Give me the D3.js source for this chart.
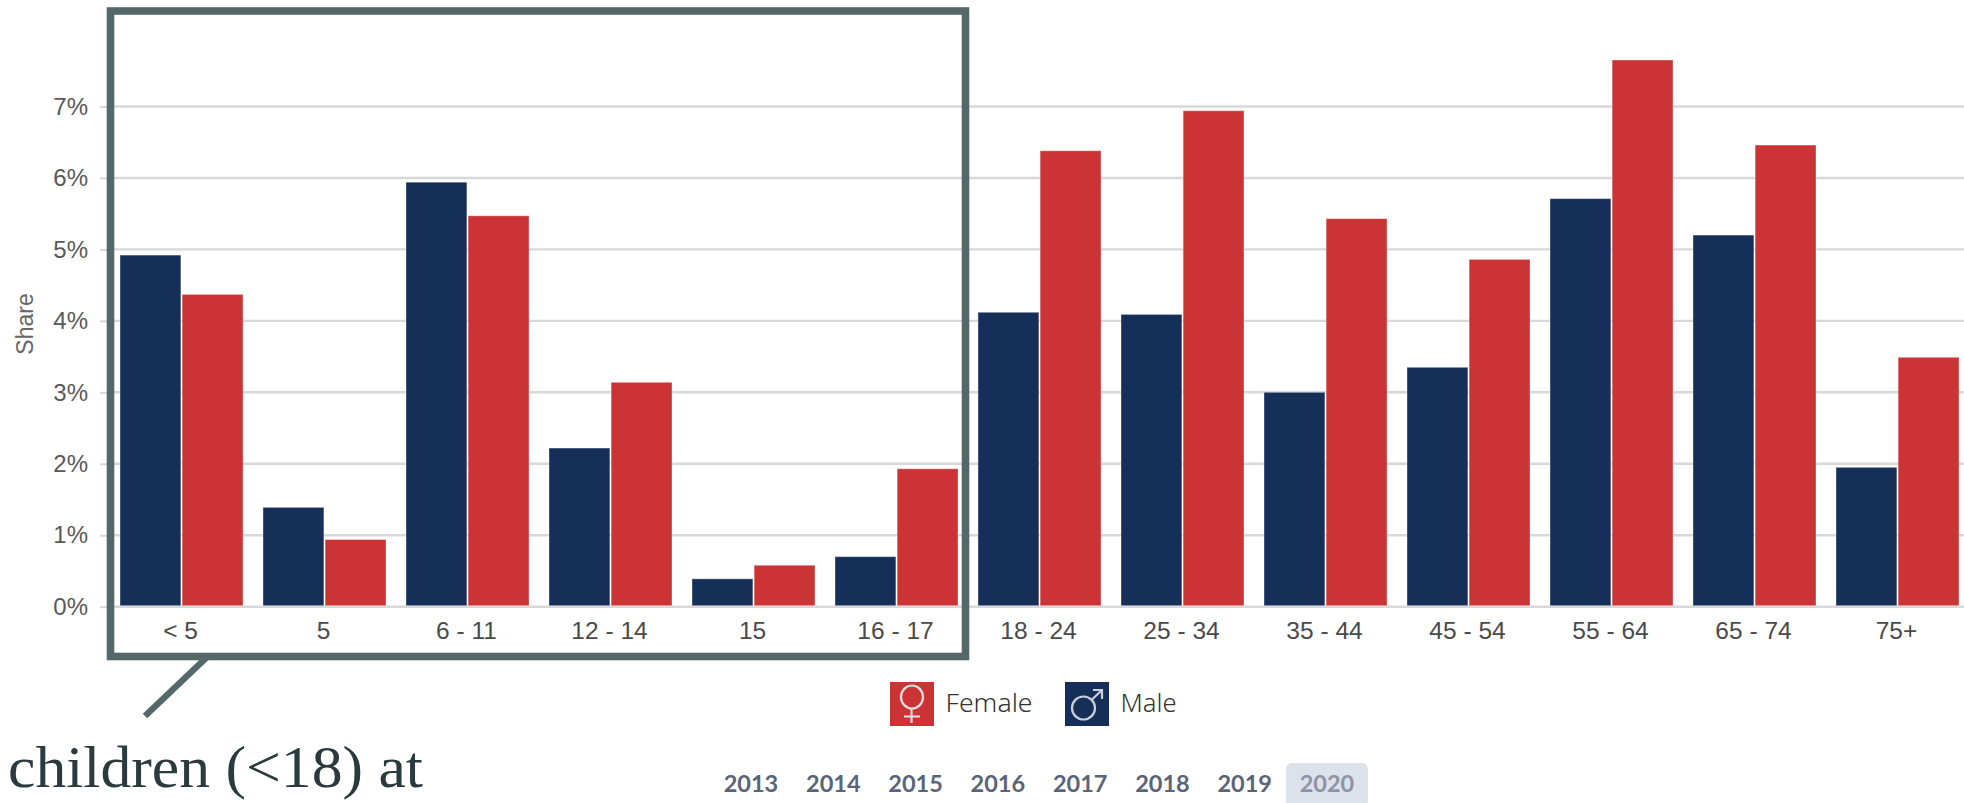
<!DOCTYPE html>
<html><head><meta charset="utf-8">
<script src="https://cdn.jsdelivr.net/npm/d3@7"></script>
<style>html,body{margin:0;padding:0;background:#fff;overflow:hidden}svg{display:block}</style>
</head><body><svg id="c" width="1964" height="803"></svg>
<script>
const categories=["< 5","5","6 - 11","12 - 14","15","16 - 17","18 - 24","25 - 34","35 - 44","45 - 54","55 - 64","65 - 74","75+"];
const male=[4.92,1.39,5.94,2.22,0.39,0.7,4.12,4.09,3.0,3.35,5.71,5.2,1.95];
const female=[4.37,0.94,5.47,3.14,0.58,1.93,6.38,6.94,5.43,4.86,7.65,6.46,3.49];
const yTicks=[0,1,2,3,4,5,6,7];
const years=[2013,2014,2015,2016,2017,2018,2019,2020];
const selectedYear=2020;
const legendItems=["Female","Male"];
const callout="children (<18) at";
const NAVY="#162f59",RED="#cb3335",FRAME="#546769";

const svg=d3.select("#c");
const x=d3.scaleBand().domain(categories).range([110,1969]).paddingInner(0.14).paddingOuter(0.07);
const x1=d3.scaleBand().domain(["male","female"]).range([0,x.bandwidth()]).paddingInner(0.02);
const y=d3.scaleLinear().domain([0,8]).range([606.7,35]);

// grid + y axis
const gy=svg.append("g").attr("transform","translate(110,0)")
  .call(d3.axisLeft(y).tickValues(yTicks).tickSize(10).tickPadding(12).tickFormat(d=>d+"%"));
gy.select(".domain").remove();
gy.selectAll("line").attr("stroke","#d8d8d8").attr("stroke-width",2);
gy.selectAll("text").attr("font-family","Liberation Sans").attr("font-size",24).attr("fill","#595959");
svg.append("g").selectAll("line").data(yTicks).join("line")
  .attr("x1",110).attr("x2",1964).attr("y1",d=>y(d)).attr("y2",d=>y(d))
  .attr("stroke","#d8d8d8").attr("stroke-width",2.4);

// bars
const groups=[["male",male,NAVY],["female",female,RED]];
groups.forEach(([k,vals,col])=>{
  svg.append("g").selectAll("rect").data(vals).join("rect")
    .attr("x",(d,i)=>x(categories[i])+x1(k))
    .attr("width",x1.bandwidth())
    .attr("y",d=>y(d)).attr("height",d=>y(0)-1-y(d))
    .attr("fill",col).attr("stroke","#fff").attr("stroke-opacity",0.35).attr("stroke-width",1);
});

// x axis
const gx=svg.append("g").attr("transform",`translate(0,${y(0)})`)
  .call(d3.axisBottom(x).tickSize(0).tickPadding(15));
gx.select(".domain").remove();
gx.selectAll("text").attr("font-family","Liberation Sans").attr("font-size",24.5).attr("fill","#4a4a4a");
gx.selectAll(".tick").attr("transform",d=>`translate(${x(d)+x.bandwidth()/2-1},0)`);

svg.append("text").attr("transform","translate(33,324) rotate(-90)").attr("text-anchor","middle")
  .attr("font-family","Liberation Sans").attr("font-size",23).attr("fill","#666").text("Share");

// callout frame
svg.append("rect").attr("x",110.5).attr("y",11).attr("width",855).attr("height",645.5)
  .attr("fill","none").attr("stroke",FRAME).attr("stroke-width",7.6);
svg.append("line").attr("x1",206).attr("y1",658).attr("x2",145).attr("y2",716)
  .attr("stroke",FRAME).attr("stroke-width",6.5);
svg.append("text").attr("x",8).attr("y",787).attr("font-family","Liberation Serif")
  .attr("font-size",60).attr("fill","#2b3a3c").attr("textLength",415).attr("lengthAdjust","spacingAndGlyphs").text(callout);

// legend
const lx=d3.scaleOrdinal().domain(legendItems).range([890,1065]);
const lc=d3.scaleOrdinal().domain(legendItems).range([RED,NAVY]);
const lw=d3.scaleOrdinal().domain(legendItems).range([87,56]);
const lg=svg.append("g").selectAll("g").data(legendItems).join("g").attr("transform",d=>`translate(${lx(d)},682)`);
lg.append("rect").attr("width",44).attr("height",44).attr("fill",d=>lc(d));
lg.append("text").attr("x",55.5).attr("y",30).attr("font-family","Noto Sans").attr("font-weight",300).attr("font-size",25)
  .attr("textLength",d=>lw(d)).attr("lengthAdjust","spacingAndGlyphs").attr("fill","#333").text(d=>d);
const sym="#eadfe0";
const fem=lg.filter(d=>d==="Female");
fem.append("ellipse").attr("cx",22).attr("cy",15).attr("rx",11).attr("ry",11.5).attr("fill","none").attr("stroke",sym).attr("stroke-width",2.2);
fem.append("path").attr("d","M21.5 27V41M14 34.5H30").attr("fill","none").attr("stroke",sym).attr("stroke-width",2.2);
const mal=lg.filter(d=>d==="Male");
mal.append("circle").attr("cx",18.5).attr("cy",26).attr("r",11.5).attr("fill","none").attr("stroke","#c9d0dc").attr("stroke-width",2.2);
mal.append("path").attr("d","M27 17.5L37 8M28 8H37V17").attr("fill","none").attr("stroke","#c9d0dc").attr("stroke-width",2.2);

// year selector
const yx=d3.scalePoint().domain(years).range([751,1327]);
svg.append("rect").attr("x",yx(selectedYear)-41).attr("y",763).attr("width",82).attr("height",44).attr("rx",6).attr("fill","#dde1ec");
svg.append("g").selectAll("text").data(years).join("text")
  .attr("x",d=>yx(d)).attr("y",792).attr("text-anchor","middle")
  .attr("font-family","Lato").attr("font-weight",700).attr("font-size",23.5)
  .attr("fill",d=>d===selectedYear?"#8d94a6":"#5a6478").text(d=>d);
</script></body></html>
